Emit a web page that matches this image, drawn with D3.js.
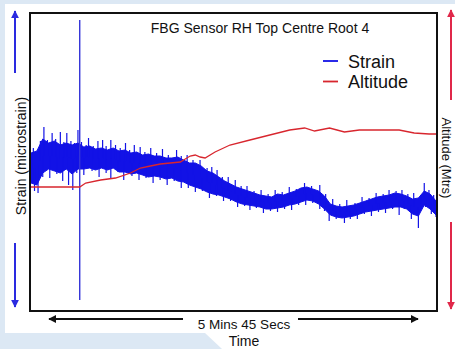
<!DOCTYPE html>
<html>
<head>
<meta charset="utf-8">
<script src="https://cdn.jsdelivr.net/npm/d3@7"></script>
<style>
  body { margin: 0; background: #dce8f4; }
  text { font-family: "Liberation Sans", Arial, sans-serif; fill: #111; }
</style>
</head>
<body>
<script>
// time axis in seconds (5 mins 45 secs total)
const timeSpan = 345;

// strain core band (arbitrary microstrain units)
const strainTime = [0,5,10,15,20,25,30,35,40,45,50,55,60,65,70,75,80,85,90,95,100,105,110,115,120,125,130,135,140,145,150,155,160,165,170,175,180,185,190,195,200,205,210,215,220,225,230,235,240,245,250,255,260,265,270,275,280,285,290,295,300,305,310,315,320,325,330,335,340,345];
const strainHigh = [158,160,172,168,170,166,168,166,168,164,165,162,163,161,163,160,161,158,159,156,157,155,155,153,153,154,151,148,148,145,140,138,134,130,127,124,122,120,118,116,115,114,117,116,118,120,123,124,122,120,115,107,105,104,105,106,108,110,112,114,115,116,118,117,115,112,113,120,117,110];
const strainLow  = [128,126,138,142,140,138,142,137,142,142,143,141,143,141,143,139,139,137,138,136,134,135,134,132,133,130,129,126,124,122,119,117,116,114,112,109,107,106,105,104,102,102,103,104,106,107,109,111,110,107,102,96,94,93,94,95,97,99,100,101,102,103,104,104,102,97,95,106,102,96];

// noise spikes outside the core band: [time, value]
const spikesUp = [[2,163],[8,170],[11,184],[14,171],[18,178],[21,172],[25,179],[28,169],[30.5,178],[34,170],[37,168],[40,181],[43,169],[47,166],[49,173],[53,165],[57,170],[61,171],[64,165],[68,171],[72,166],[76,163],[80.5,168],[84,161],[88,166],[93,164],[97,159],[102,163],[107,158],[112,162],[117,156],[124,161],[128,155],[133,156],[138,151],[144,151],[150,143],[154,144],[158.5,141],[163,134],[168,134],[174,131],[179,125],[184,125],[190,120],[196,121],[202,117],[208,121],[214,119],[220,124],[226,122],[233,128],[239,125],[246,126],[251,117],[257,112],[263,107],[269,111],[276,108],[282,114],[288,113],[294,118],[300,117],[305,121],[311,120],[316,121],[321,117],[326,118],[332,116],[335,128],[339,121],[343,116]];
const spikesDown = [[3,120],[6,118],[10,134],[16,133],[22,137],[27,130],[32,126],[35.6,121],[39,138],[45,136],[52,140],[58,134],[64,138],[68,133],[74,139],[79,131],[86,135],[92,131],[98,133],[104,128],[110,131],[116,126],[122,130],[128,123],[134,123],[140,119],[146,120],[152,113],[158,115],[164,110],[170,110],[176,104],[182,105],[186.5,101],[192,103],[198,98],[204,100],[210,99],[216,102],[222,101],[228,106],[234,106],[240,108],[246,102],[250,100],[254,90],[260,92],[267,88],[272,92],[278,92],[284,97],[290,95],[296,99],[302,98],[308,102],[313.6,96],[318,102],[324,92],[330,83],[336,104],[341,97],[345,94]];

// single transient at ~41 s
const transientTime = 41.5;
const transientRange = [11, 291];

// altitude trace
const altTime  = [0,41.5,46.6,59.3,72,84.8,93.2,101.7,110.2,118.7,127.2,131.4,135.6,139.9,144.1,148.3,156.8,169.5,186.5,203.4,220.4,233.1,241.6,254.3,267,279.7,296.7,313.6,326.4,339.1,345];
const altValue = [124,124,128,131,133,138,143,145,147,148,149,152,155,156,154,153,159,166,171,176,181,183,180,183,179,181,181,181,178,177,177];

const seriesNames = ["Strain", "Altitude"];
const seriesColors = ["#1212e6", "#d8262e"];

const W = 455, H = 349;
const svg = d3.select("body").append("svg")
    .attr("width", W)
    .attr("height", H);

// slide background: white panel with a blue wedge bottom left
svg.append("rect").attr("x", 5).attr("y", 4).attr("width", W - 5).attr("height", H - 4).attr("fill", "#fff");
svg.append("path")
    .attr("d", "M0,333 L205,333 L222,349 L0,349 Z")
    .attr("fill", "#dce8f4");

const pLeft = 31, pRight = 436, pTop = 13, pBottom = 311;

const x = d3.scaleLinear().domain([0, timeSpan]).range([pLeft, pRight]);
const yStrain = d3.scaleLinear().domain([0, 298]).range([pBottom, pTop]);
const yAlt = d3.scaleLinear().domain([0, 298]).range([pBottom, pTop]);

const strain = strainTime.map((t, i) => ({ t: t, hi: strainHigh[i], lo: strainLow[i] }));

svg.append("clipPath").attr("id", "plot")
  .append("rect").attr("x", pLeft).attr("y", pTop).attr("width", pRight - pLeft).attr("height", pBottom - pTop);

const g = svg.append("g").attr("clip-path", "url(#plot)");

// strain band
g.append("path")
    .datum(strain)
    .attr("fill", seriesColors[0])
    .attr("stroke", seriesColors[0])
    .attr("stroke-width", 1)
    .attr("d", d3.area()
        .x(d => x(d.t))
        .y0(d => yStrain(d.lo))
        .y1(d => yStrain(d.hi)));

// spikes, drawn from band centre
const mid = d3.scaleLinear().domain(strainTime).range(strain.map(d => (d.hi + d.lo) / 2));
g.selectAll("line.spike")
    .data(spikesUp.concat(spikesDown))
    .enter().append("line")
    .attr("class", "spike")
    .attr("x1", d => x(d[0])).attr("x2", d => x(d[0]))
    .attr("y1", d => yStrain(mid(d[0])))
    .attr("y2", d => yStrain(d[1]))
    .attr("stroke", seriesColors[0])
    .attr("stroke-width", 1.2);

// transient
g.append("line")
    .attr("x1", x(transientTime)).attr("x2", x(transientTime))
    .attr("y1", yStrain(transientRange[0])).attr("y2", yStrain(transientRange[1]))
    .attr("stroke", "#3434d8")
    .attr("stroke-width", 1.4);

// altitude
g.append("path")
    .datum(altTime.map((t, i) => ({ t: t, v: altValue[i] })))
    .attr("fill", "none")
    .attr("stroke", seriesColors[1])
    .attr("stroke-width", 1.3)
    .attr("d", d3.line().x(d => x(d.t)).y(d => yAlt(d.v)));

// frame
svg.append("rect")
    .attr("x", 30).attr("y", 13)
    .attr("width", 407).attr("height", 298)
    .attr("fill", "none")
    .attr("stroke", "#111")
    .attr("stroke-width", 2);

svg.append("text")
    .attr("x", 260).attr("y", 33)
    .attr("text-anchor", "middle")
    .style("font-size", "14px")
    .text("FBG Sensor RH Top Centre Root 4");

// legend
const legend = svg.append("g").selectAll("g")
    .data(seriesNames)
    .enter().append("g")
    .attr("transform", (d, i) => "translate(323," + (61 + i * 20.5) + ")");
legend.append("line")
    .attr("x1", 0).attr("x2", 15)
    .attr("stroke", (d, i) => seriesColors[i])
    .attr("stroke-width", 1.8);
legend.append("text")
    .attr("x", 25).attr("y", 6.5)
    .style("font-size", "18px")
    .text(d => d);

// arrow markers
const defs = svg.append("defs");
[["blueHead", "#2a2ae0"], ["redHead", "#e0284a"], ["blackHead", "#111"]].forEach(m => {
    defs.append("marker")
        .attr("id", m[0])
        .attr("viewBox", "0 0 10 10")
        .attr("refX", 9).attr("refY", 5)
        .attr("markerWidth", 4).attr("markerHeight", 4)
        .attr("orient", "auto-start-reverse")
      .append("path")
        .attr("d", "M0,0 L10,5 L0,10 Z")
        .attr("fill", m[1]);
});

const arrows = [
    [15, 73, 15, 11, "#2a2ae0", "blueHead"],
    [15, 243, 15, 307, "#2a2ae0", "blueHead"],
    [451, 100, 451, 10, "#e0284a", "redHead"],
    [451, 222, 451, 309, "#e0284a", "redHead"]
];
svg.selectAll("line.arrow")
    .data(arrows)
    .enter().append("line")
    .attr("class", "arrow")
    .attr("x1", d => d[0]).attr("y1", d => d[1])
    .attr("x2", d => d[2]).attr("y2", d => d[3])
    .attr("stroke", d => d[4])
    .attr("stroke-width", 2)
    .attr("marker-end", d => "url(#" + d[5] + ")");

// axis titles
svg.append("text")
    .attr("transform", "translate(25.5,156)rotate(-90)")
    .attr("text-anchor", "middle")
    .style("font-size", "14px")
    .text("Strain (microstrain)");

svg.append("text")
    .attr("transform", "translate(442,158)rotate(90)")
    .attr("text-anchor", "middle")
    .style("font-size", "13px")
    .text("Altitude (Mtrs)");

// time span arrow
svg.append("line")
    .attr("x1", 183).attr("y1", 319).attr("x2", 49).attr("y2", 319)
    .attr("stroke", "#111").attr("stroke-width", 2)
    .attr("marker-end", "url(#blackHead)");
svg.append("line")
    .attr("x1", 298).attr("y1", 319).attr("x2", 418).attr("y2", 319)
    .attr("stroke", "#111").attr("stroke-width", 2)
    .attr("marker-end", "url(#blackHead)");

svg.append("text")
    .attr("x", 244).attr("y", 328.5)
    .attr("text-anchor", "middle")
    .style("font-size", "13.5px")
    .text("5 Mins 45 Secs");

svg.append("text")
    .attr("x", 244).attr("y", 346)
    .attr("text-anchor", "middle")
    .style("font-size", "14px")
    .text("Time");
</script>
</body>
</html>
